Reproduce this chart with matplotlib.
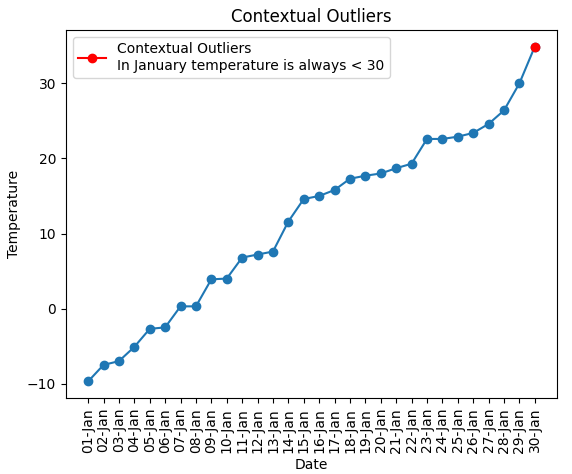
import matplotlib.pyplot as plt

dates = ["%02d-Jan" % d for d in range(1, 31)]
temps = [-9.7, -7.5, -7.0, -5.1, -2.7, -2.5, 0.3, 0.3, 3.9, 4.0,
         6.8, 7.2, 7.6, 11.6, 14.6, 15.0, 15.8, 17.3, 17.7, 18.0,
         18.7, 19.3, 22.6, 22.6, 22.9, 23.4, 24.6, 26.4, 30.0, 34.9]
outlier_date = "30-Jan"
outlier_temp = 34.9

fig, ax = plt.subplots(figsize=(5.72, 4.74), dpi=100)
ax.plot(dates, temps, marker="o")
ax.plot([outlier_date], [outlier_temp], marker="o", color="red")
ax.legend(handles=[plt.Line2D([], [], color="red", marker="o",
                              label="Contextual Outliers\nIn January temperature is always < 30")],
          loc="upper left")
ax.set_title("Contextual Outliers")
ax.set_xlabel("Date")
ax.set_ylabel("Temperature")
plt.xticks(rotation=90)
fig.subplots_adjust(left=0.115, right=0.974, top=0.937, bottom=0.16)
fig.savefig("out.png")
